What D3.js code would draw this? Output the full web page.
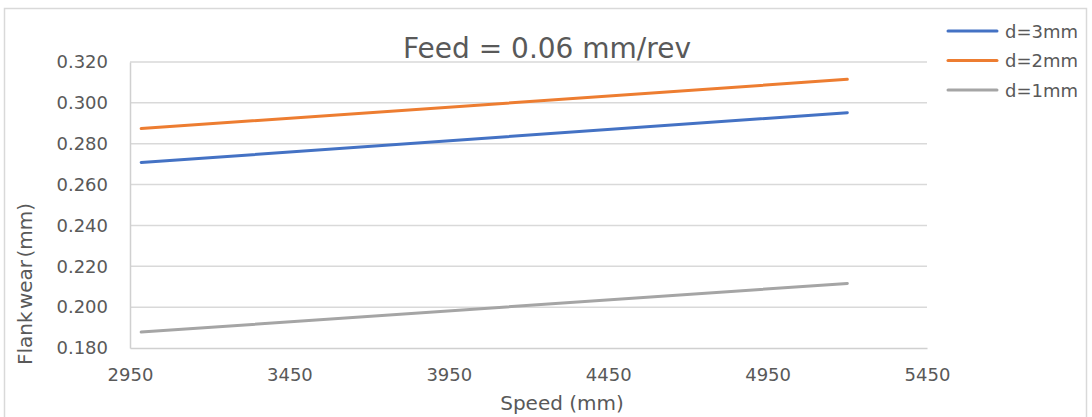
<!DOCTYPE html>
<html>
<head>
<meta charset="utf-8">
<script src="https://cdn.jsdelivr.net/npm/d3@7"></script>
<style>
  html, body { margin: 0; padding: 0; background: #fff; }
  svg { display: block; font-family: "DejaVu Sans", sans-serif; }
</style>
</head>
<body>
<div id="chart"></div>
<script>
// speeds (start / end of each line)
var speeds = [2985, 5200];
var seriesNames = ["d=3mm", "d=2mm", "d=1mm"];
var seriesColors = ["#4472C4", "#ED7D31", "#A5A5A5"];
var wear3 = [0.2708, 0.2952];
var wear2 = [0.2874, 0.3115];
var wear1 = [0.1878, 0.2116];
var yTicks = [0.180, 0.200, 0.220, 0.240, 0.260, 0.280, 0.300, 0.320];
var xTicks = [2950, 3450, 3950, 4450, 4950, 5450];

(function () {
  var W = 1092, H = 417;
  var plot = { left: 130, right: 927, top: 62, bottom: 348 };

  var svg = d3.select("#chart").append("svg")
    .attr("width", W).attr("height", H);

  // chart frame
  svg.append("rect")
    .attr("x", 4.5).attr("y", 8.5)
    .attr("width", 1082).attr("height", 420)
    .attr("fill", "#fff")
    .attr("stroke", "#d9d9d9")
    .attr("stroke-width", 1.5);

  var x = d3.scaleLinear().domain([2950, 5450]).range([plot.left, plot.right]);
  var y = d3.scaleLinear().domain([0.180, 0.320]).range([plot.bottom, plot.top]);

  // ── Gridlines ──────────────────────────────────────────
  svg.append("g")
    .selectAll("line")
    .data(yTicks.slice(1))
    .join("line")
    .attr("x1", plot.left).attr("x2", plot.right)
    .attr("y1", function (d) { return y(d); })
    .attr("y2", function (d) { return y(d); })
    .attr("stroke", "#d9d9d9")
    .attr("stroke-width", 1.5);

  // ── Axes ───────────────────────────────────────────────
  var yAxis = svg.append("g")
    .attr("transform", "translate(" + plot.left + ",0)")
    .call(d3.axisLeft(y).tickValues(yTicks).tickFormat(d3.format(".3f")).tickSize(0).tickPadding(22));
  yAxis.select(".domain").attr("stroke", "#d0d0d0").attr("stroke-width", 1.5);

  var xAxis = svg.append("g")
    .attr("transform", "translate(0," + plot.bottom + ")")
    .call(d3.axisBottom(x).tickValues(xTicks).tickFormat(d3.format("d")).tickSize(0).tickPadding(20));
  xAxis.select(".domain").attr("stroke", "#d0d0d0").attr("stroke-width", 1.5);

  svg.selectAll(".tick text")
    .attr("fill", "#595959")
    .attr("font-size", "18px")
    .attr("font-family", "'DejaVu Sans', sans-serif");

  // ── Series lines ───────────────────────────────────────
  var series = [wear3, wear2, wear1];
  var line = d3.line()
    .x(function (d, i) { return x(speeds[i]); })
    .y(function (d) { return y(d); });

  svg.append("g")
    .selectAll("path")
    .data(series)
    .join("path")
    .attr("d", line)
    .attr("fill", "none")
    .attr("stroke", function (d, i) { return seriesColors[i]; })
    .attr("stroke-width", 3)
    .attr("stroke-linecap", "round");

  // ── Titles ─────────────────────────────────────────────
  svg.append("text")
    .attr("x", 547).attr("y", 58)
    .attr("text-anchor", "middle")
    .attr("font-size", "28px")
    .attr("fill", "#595959")
    .text("Feed = 0.06 mm/rev");

  svg.append("text")
    .attr("x", 562).attr("y", 410)
    .attr("text-anchor", "middle")
    .attr("font-size", "20px")
    .attr("fill", "#595959")
    .text("Speed (mm)");

  svg.append("text")
    .attr("transform", "translate(32,284) rotate(-90)")
    .attr("text-anchor", "middle")
    .attr("font-size", "20px")
    .attr("word-spacing", "-4px")
    .attr("fill", "#595959")
    .text("Flank wear (mm)");

  // ── Legend ─────────────────────────────────────────────
  var lgd = svg.append("g").attr("transform", "translate(948,31)");
  seriesNames.forEach(function (name, i) {
    var row = lgd.append("g").attr("transform", "translate(0," + (i * 29.5) + ")");
    row.append("line")
      .attr("x1", 0).attr("x2", 49)
      .attr("stroke", seriesColors[i])
      .attr("stroke-width", 3)
      .attr("stroke-linecap", "round");
    row.append("text")
      .attr("x", 57).attr("y", 6.5)
      .attr("font-size", "18px")
      .attr("fill", "#595959")
      .text(name);
  });
})();
</script>
</body>
</html>
